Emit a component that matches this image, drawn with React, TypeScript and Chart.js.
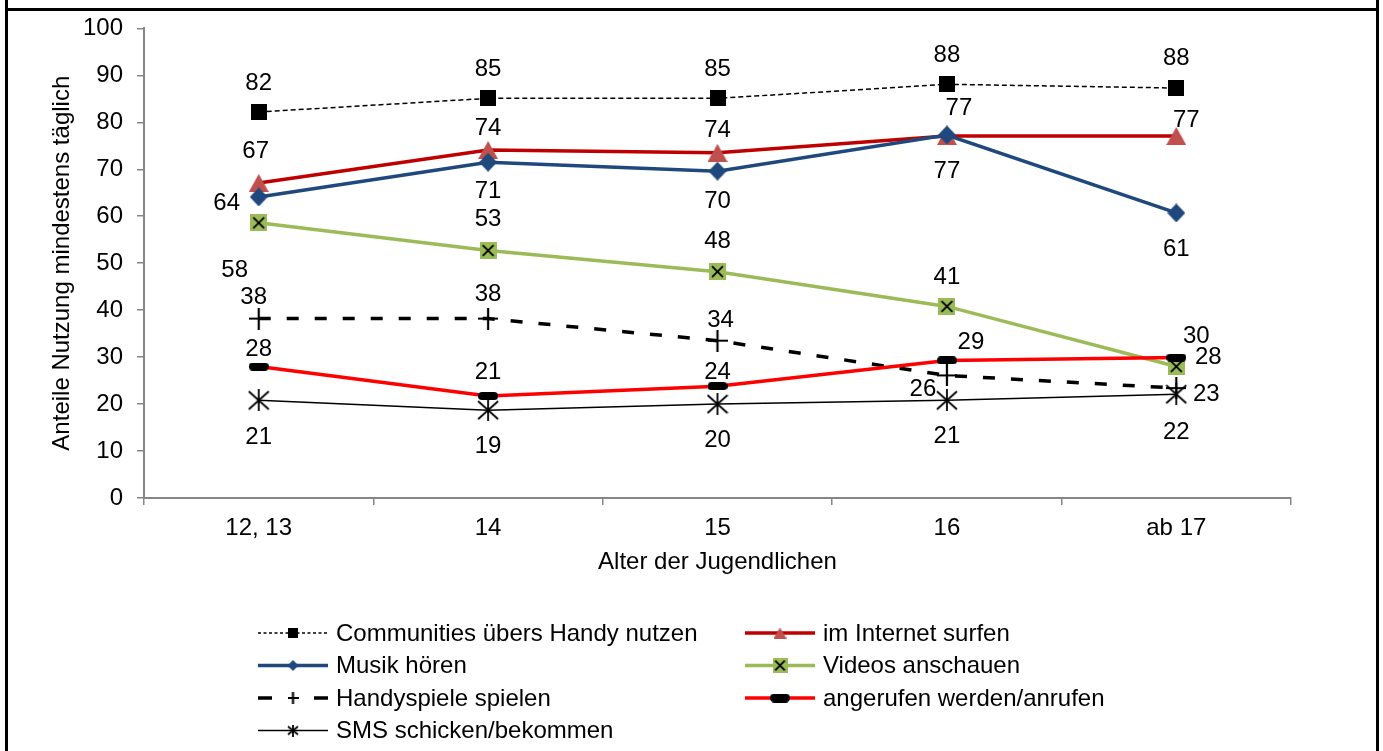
import React, { useEffect, useRef } from "react";
import { Chart, registerables } from "chart.js";

Chart.register(...registerables);

// ---------- data ----------
const categories = ["12, 13", "14", "15", "16", "ab 17"];

const communitiesValues = [82.2, 85.1, 85.1, 88.1, 87.3];
const internetValues = [67.1, 74.1, 73.5, 77.1, 77.1];
const musikValues = [64.1, 71.5, 69.6, 77.3, 60.7];
const videosValues = [58.6, 52.7, 48.2, 40.8, 28.0];
const spieleValues = [38.2, 38.2, 33.5, 26.1, 23.4];
const anrufenValues = [28.0, 21.7, 23.8, 29.3, 29.9];
const smsValues = [20.8, 18.7, 20.0, 20.8, 22.1];

const communitiesLabels = ["82", "85", "85", "88", "88"];
const internetLabels = ["67", "74", "74", "77", "77"];
const musikLabels = ["64", "71", "70", "77", "61"];
const videosLabels = ["58", "53", "48", "41", "28"];
const spieleLabels = ["38", "38", "34", "26", "23"];
const anrufenLabels = ["28", "21", "24", "29", "30"];
const smsLabels = ["21", "19", "20", "21", "22"];

const seriesNames = [
  "Communities übers Handy nutzen",
  "im Internet surfen",
  "Musik hören",
  "Videos anschauen",
  "Handyspiele spielen",
  "angerufen werden/anrufen",
  "SMS schicken/bekommen",
];

const yMin = 0;
const yMax = 100;
const yStep = 10;
const xTitle = "Alter der Jugendlichen";
const yTitle = "Anteile Nutzung mindestens täglich";

// ---------- styling (kept apart from data) ----------
const FONT = "'Liberation Sans', Arial, Helvetica, sans-serif";
const FS = 24;
const AXIS_GREY = "#868686";

// label offsets [dx, dy] relative to each point
const labelOffsets: number[][][] = [
  [[0, -29], [0, -29], [0, -29], [0, -29], [0, -30]],
  [[-3, -32], [0, -22], [0, -22], [12, -28], [10, -16]],
  [[-32, 6], [0, 29], [0, 30], [0, 36], [0, 36]],
  [[-24, 48], [0, -31], [0, -30], [0, -29], [32, -9]],
  [[-5, -21], [0, -24], [3, -20], [-24, 14], [30, 6]],
  [[0, -17], [0, -24], [0, -14], [24, -18], [20, -21]],
  [[0, 37], [0, 36], [0, 36], [0, 36], [0, 38]],
];

type MarkerKind = "square" | "triangle" | "diamond" | "xbox" | "plus" | "pill" | "star";

function makeMarker(kind: MarkerKind, w: number, h: number, color: string): HTMLCanvasElement {
  const c = document.createElement("canvas");
  c.width = w;
  c.height = h;
  const g = c.getContext("2d")!;
  g.fillStyle = color;
  g.strokeStyle = "#000";
  switch (kind) {
    case "square":
      g.fillRect(0, 0, w, h);
      break;
    case "triangle":
      g.beginPath();
      g.moveTo(w / 2, 0);
      g.lineTo(w, h);
      g.lineTo(0, h);
      g.closePath();
      g.fill();
      break;
    case "diamond":
      g.beginPath();
      g.moveTo(w / 2, 0);
      g.lineTo(w, h / 2);
      g.lineTo(w / 2, h);
      g.lineTo(0, h / 2);
      g.closePath();
      g.fill();
      break;
    case "xbox": {
      g.fillRect(0, 0, w, h);
      const m = w * 0.18;
      g.lineWidth = 1.8;
      g.beginPath();
      g.moveTo(m, m);
      g.lineTo(w - m, h - m);
      g.moveTo(w - m, m);
      g.lineTo(m, h - m);
      g.stroke();
      break;
    }
    case "plus":
      g.lineWidth = 2.2;
      g.beginPath();
      g.moveTo(0, h / 2);
      g.lineTo(w, h / 2);
      g.moveTo(w / 2, 0);
      g.lineTo(w / 2, h);
      g.stroke();
      break;
    case "pill": {
      const r = h / 2;
      g.beginPath();
      g.moveTo(r, 0);
      g.lineTo(w - r, 0);
      g.arc(w - r, r, r, -Math.PI / 2, Math.PI / 2);
      g.lineTo(r, h);
      g.arc(r, r, r, Math.PI / 2, (3 * Math.PI) / 2);
      g.closePath();
      g.fill();
      break;
    }
    case "star": {
      g.lineWidth = 1.8;
      const m = 1;
      g.beginPath();
      g.moveTo(m, m + 1);
      g.lineTo(w - m, h - m - 1);
      g.moveTo(w - m, m + 1);
      g.lineTo(m, h - m - 1);
      g.moveTo(w / 2, 0);
      g.lineTo(w / 2, h);
      g.stroke();
      break;
    }
  }
  return c;
}

interface SeriesStyle {
  line: string;
  width: number;
  dash: number[];
  legendDash: number[];
  marker: MarkerKind;
  markerColor: string;
  size: [number, number];
  legendSize: [number, number];
}

const styles: SeriesStyle[] = [
  { line: "#000000", width: 1.5, dash: [5, 3], legendDash: [3, 2.5], marker: "square", markerColor: "#000", size: [16, 16], legendSize: [10, 10] },
  { line: "#C00000", width: 3.5, dash: [], legendDash: [], marker: "triangle", markerColor: "#C0504D", size: [20, 18], legendSize: [13, 11] },
  { line: "#1F497D", width: 3.5, dash: [], legendDash: [], marker: "diamond", markerColor: "#1F497D", size: [18, 19], legendSize: [11, 11] },
  { line: "#9BBB59", width: 3.5, dash: [], legendDash: [], marker: "xbox", markerColor: "#9BBB59", size: [17, 17], legendSize: [15, 15] },
  { line: "#000000", width: 3.5, dash: [12, 16], legendDash: [], marker: "plus", markerColor: "#000", size: [20, 22], legendSize: [11, 12] },
  { line: "#FF0000", width: 3.5, dash: [], legendDash: [], marker: "pill", markerColor: "#000", size: [20, 8], legendSize: [20, 9] },
  { line: "#000000", width: 1.5, dash: [], legendDash: [], marker: "star", markerColor: "#000", size: [22, 22], legendSize: [12, 12] },
];

// legend grid: [column x, row y] per series
const legendCols = [258, 745];
const legendRows = [633, 665.5, 698, 730.5];
const legendCell: [number, number][] = [
  [0, 0], [1, 0], [0, 1], [1, 1], [0, 2], [1, 2], [0, 3],
];

const seriesValues = [communitiesValues, internetValues, musikValues, videosValues, spieleValues, anrufenValues, smsValues];
const seriesLabels = [communitiesLabels, internetLabels, musikLabels, videosLabels, spieleLabels, anrufenLabels, smsLabels];

export default function App() {
  const ref = useRef<HTMLCanvasElement | null>(null);

  useEffect(() => {
    if (!ref.current) return;
    const chartMarkers = styles.map((s) => makeMarker(s.marker, s.size[0], s.size[1], s.markerColor));
    const legendMarkers = styles.map((s) => makeMarker(s.marker, s.legendSize[0], s.legendSize[1], s.markerColor));

    const labelPlugin = {
      id: "valueLabels",
      afterDatasetsDraw(chart: any) {
        const ctx = chart.ctx;
        ctx.save();
        ctx.font = `${FS}px ${FONT}`;
        ctx.fillStyle = "#000";
        ctx.textAlign = "center";
        ctx.textBaseline = "middle";
        chart.data.datasets.forEach((_: any, i: number) => {
          const meta = chart.getDatasetMeta(i);
          meta.data.forEach((pt: any, j: number) => {
            const [dx, dy] = labelOffsets[i][j];
            ctx.fillText(seriesLabels[i][j], pt.x + dx, pt.y + dy);
          });
        });
        ctx.restore();
      },
    };

    const framePlugin = {
      id: "frameLegend",
      afterDraw(chart: any) {
        const ctx = chart.ctx;
        const W = chart.width;
        const H = chart.height;
        ctx.save();
        // frame
        ctx.strokeStyle = "#000";
        ctx.lineWidth = 3;
        ctx.beginPath();
        ctx.moveTo(6.5, 0);
        ctx.lineTo(6.5, H);
        ctx.moveTo(W - 5.5, 0);
        ctx.lineTo(W - 5.5, H);
        ctx.moveTo(6.5, 9.5);
        ctx.lineTo(W - 5.5, 9.5);
        ctx.stroke();
        // legend
        ctx.font = `${FS}px ${FONT}`;
        ctx.textAlign = "left";
        ctx.textBaseline = "middle";
        styles.forEach((s, i) => {
          const [c, r] = legendCell[i];
          const x = legendCols[c];
          const y = legendRows[r];
          ctx.save();
          ctx.strokeStyle = s.line;
          ctx.lineWidth = s.width;
          if (i === 4) {
            ctx.beginPath();
            ctx.moveTo(x, y);
            ctx.lineTo(x + 14, y);
            ctx.moveTo(x + 56, y);
            ctx.lineTo(x + 70, y);
            ctx.stroke();
          } else {
            ctx.setLineDash(s.legendDash);
            ctx.beginPath();
            ctx.moveTo(x, y);
            ctx.lineTo(x + 70, y);
            ctx.stroke();
          }
          ctx.restore();
          const m = legendMarkers[i];
          ctx.drawImage(m, x + 35 - m.width / 2, y - m.height / 2);
          ctx.fillStyle = "#000";
          ctx.fillText(seriesNames[i], x + 78, y + 1);
        });
        ctx.restore();
      },
    };

    const n = styles.length;
    const chart = new Chart(ref.current, {
      type: "line",
      data: {
        labels: categories,
        datasets: seriesValues.map((vals, i) => ({
          label: seriesNames[i],
          data: vals,
          borderColor: styles[i].line,
          borderWidth: styles[i].width,
          borderDash: styles[i].dash,
          pointStyle: chartMarkers[i] as any,
          pointRadius: 8,
          pointHoverRadius: 8,
          tension: 0,
          fill: false,
          order: n - i,
        })),
      },
      options: {
        responsive: false,
        animation: false,
        events: [],
        layout: { padding: { left: 40, right: 92, top: 27, bottom: 173 } },
        plugins: {
          legend: { display: false },
          tooltip: { enabled: false },
          title: { display: false },
        },
        scales: {
          x: {
            offset: true,
            ticks: {
              color: "#000",
              font: { family: FONT, size: FS },
              padding: 9,
              maxRotation: 0,
              autoSkip: false,
            },
            grid: {
              offset: true,
              drawOnChartArea: false,
              drawTicks: true,
              tickLength: 7,
              color: AXIS_GREY,
              lineWidth: 1.5,
            },
            border: { color: AXIS_GREY, width: 2 },
            title: {
              display: true,
              text: xTitle,
              color: "#000",
              font: { family: FONT, size: FS },
              padding: { top: 0, bottom: 1 },
            },
            afterFit: (s: any) => {
              s.height = 80;
            },
          },
          y: {
            min: yMin,
            max: yMax,
            ticks: {
              stepSize: yStep,
              color: "#000",
              font: { family: FONT, size: FS },
              padding: 14,
            },
            grid: {
              drawOnChartArea: false,
              drawTicks: true,
              tickLength: 7,
              color: AXIS_GREY,
              lineWidth: 1.5,
            },
            border: { color: AXIS_GREY, width: 2 },
            title: {
              display: true,
              text: yTitle,
              color: "#000",
              font: { family: FONT, size: FS },
              padding: { top: 8, bottom: 0 },
            },
            afterFit: (s: any) => {
              s.width = 104;
            },
          },
        },
      },
      plugins: [labelPlugin, framePlugin],
    });
    return () => chart.destroy();
  }, []);

  return (
    <div style={{ position: "absolute", left: 0, top: 0, width: 1383, height: 751, background: "#fff" }}>
      <canvas ref={ref} width={1383} height={751} style={{ display: "block" }} />
    </div>
  );
}
